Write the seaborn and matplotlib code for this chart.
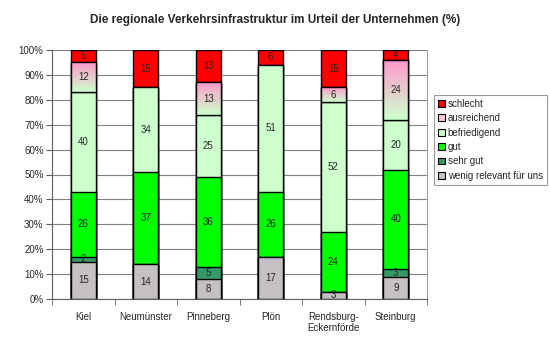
import numpy as np
import pandas as pd
import matplotlib
matplotlib.use("Agg")
import matplotlib.pyplot as plt
from matplotlib.patches import Patch, Rectangle
from matplotlib.colors import LinearSegmentedColormap
import seaborn as sns

categories = ["Kiel", "Neumünster", "Pinneberg", "Plön", "Rendsburg-\nEckernförde", "Steinburg"]
series_names = ["wenig relevant für uns", "sehr gut", "gut", "befriedigend", "ausreichend", "schlecht"]
wenig = [15, 14, 8, 17, 3, 9]
sehr_gut = [2, 0, 5, 0, 0, 3]
gut = [26, 37, 36, 26, 24, 40]
befriedigend = [40, 34, 25, 51, 52, 20]
ausreichend = [12, 0, 13, 0, 6, 24]
schlecht = [5, 15, 13, 6, 15, 4]
yticks = [0, 10, 20, 30, 40, 50, 60, 70, 80, 90, 100]

series_values = [wenig, sehr_gut, gut, befriedigend, ausreichend, schlecht]
colors = ["#C4C0C4", "#339966", "#00FF00", "#CCFFCC", "#F4B8D2", "#FF0000"]

sns.set_style("white")
plt.rcParams["font.family"] = ["Liberation Sans", "DejaVu Sans"]

fig = plt.figure(figsize=(5.5, 3.42), dpi=100)
ax = fig.add_axes([52 / 550, 1 - 299 / 342, (427 - 52) / 550, (299 - 50) / 342])

cum = np.cumsum(np.array(series_values), axis=0)
# draw from top layer down so lower layers cover
for i in range(len(series_names) - 1, -1, -1):
    df = pd.DataFrame({"cat": categories, "val": cum[i]})
    sns.barplot(data=df, x="cat", y="val", color=colors[i], width=0.4,
                edgecolor="black", linewidth=1.0, saturation=1, ax=ax, zorder=2)

# gradient for 'ausreichend'
cmap = LinearSegmentedColormap.from_list("pg", ["#CCFFCC", "#FF99CC"])
grad = np.linspace(0, 1, 64).reshape(-1, 1)
for j in range(len(categories)):
    lo, hi = cum[3][j], cum[4][j]
    if hi - lo > 0:
        ax.imshow(grad, cmap=cmap, origin="lower", aspect="auto",
                  extent=(j - 0.2, j + 0.2, lo, hi), zorder=2.5)
        ax.add_patch(Rectangle((j - 0.2, lo), 0.4, hi - lo, fill=False, edgecolor="black",
                               linewidth=1.0, zorder=2.6))

# value labels
for i in range(len(series_names)):
    for j in range(len(categories)):
        v = series_values[i][j]
        if v > 0:
            mid = cum[i][j] - v / 2
            ax.text(j, mid, str(v), ha="center", va="center", fontsize=7, zorder=5)

ax.set_xlim(-0.5, len(categories) - 0.5)
ax.set_ylim(0, 100)
ax.set_yticks(yticks)
ax.set_yticklabels([f"{t}%" for t in yticks], fontsize=7)
ax.set_xticks(range(len(categories)))
ax.set_xticklabels(categories, fontsize=7)
ax.set_xticks(np.arange(-0.5, len(categories), 1), minor=True)
ax.tick_params(axis="x", which="major", length=0, pad=9)
ax.tick_params(axis="x", which="minor", length=4, color="#606060", direction="out", bottom=True)
ax.tick_params(axis="y", length=4, color="#606060", direction="out", left=True, pad=2)
ax.set_xlabel("")
ax.set_ylabel("")
ax.yaxis.grid(True, color="#808080", linewidth=0.8)
ax.set_axisbelow(True)
for s in ["left", "bottom"]:
    ax.spines[s].set_color("#606060")
ax.spines["right"].set_color("#A0A0A0")
ax.spines["top"].set_visible(False)

fig.text(0.5, 1 - 20 / 342, "Die regionale Verkehrsinfrastruktur im Urteil der Unternehmen (%)",
         ha="center", va="center", fontsize=8.5, fontweight="bold")

handles = [Patch(facecolor=colors[i], edgecolor="black", linewidth=0.8, label=series_names[i])
           for i in range(len(series_names) - 1, -1, -1)]
handles[1] = Patch(facecolor="#FBC8DC", edgecolor="black", linewidth=0.8, label="ausreichend")
leg = fig.legend(handles=handles, loc="upper left", bbox_to_anchor=(434 / 550, 1 - 95 / 342),
                 fontsize=7, frameon=True, fancybox=False, handlelength=0.7, handleheight=0.7,
                 handletextpad=0.3, borderpad=0.4, labelspacing=0.45, borderaxespad=0)
leg.get_frame().set_edgecolor("#808080")
leg.get_frame().set_linewidth(0.8)

fig.savefig("out.png", dpi=100)
